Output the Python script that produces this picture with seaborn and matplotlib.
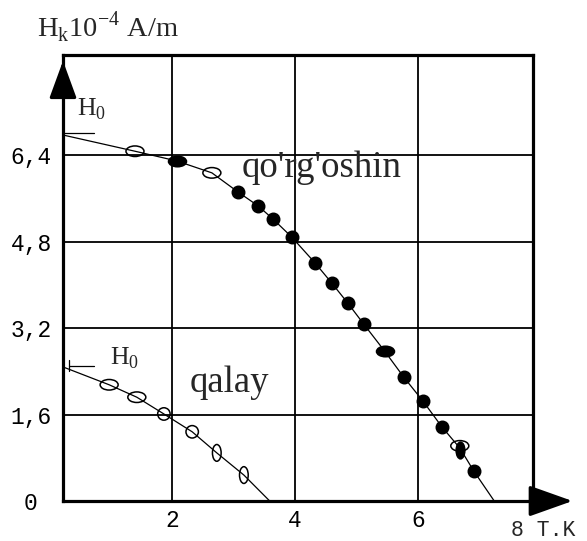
import matplotlib
matplotlib.use("Agg")
import matplotlib.pyplot as plt
import seaborn as sns
import pandas as pd
from matplotlib.markers import MarkerStyle
from matplotlib.transforms import Affine2D

# ------------------------------------------------------
# Data: T in K, Hk in 10^4 A/m
# ------------------------------------------------------
lead_T = [1.40, 2.08, 2.65, 3.07, 3.40, 3.64, 3.95, 4.33, 4.60,
          4.86, 5.12, 5.46, 5.77, 6.08, 6.39, 6.68, 6.68, 6.91]
lead_H = [6.47, 6.29, 6.07, 5.72, 5.46, 5.22, 4.88, 4.40, 4.03,
          3.66, 3.27, 2.77, 2.29, 1.85, 1.37, 0.94, 1.02, 0.55]
lead_H0 = 6.77
lead_Tc = 7.24

tin_T = [0.98, 1.43, 1.87, 2.33, 2.73, 3.17]
tin_H = [2.15, 1.92, 1.61, 1.28, 0.89, 0.48]
tin_H0 = 2.48
tin_Tc = 3.59

x_ticks = [2, 4, 6]
x_labels = ["2", "4", "6"]
y_ticks = [0, 1.6, 3.2, 4.8, 6.4]
y_labels = ["0 ", "1,6", "3,2", "4,8", "6,4"]

# marker looks (fill, shape) per point
lead_fill = [False, True, False, True, True, True, True, True, True,
             True, True, True, True, True, True, True, False, True]
lead_shape = ["wide", "wide", "wide", "round", "round", "round", "round", "round", "round",
              "round", "round", "wide", "round", "round", "round", "tall", "wide", "round"]
tin_shape = ["wide", "wide", "round", "round", "tall", "tall"]

shapes = {"wide": (1.45, 0.85), "round": (1.0, 1.0), "tall": (0.7, 1.35)}

x_left = 0.23
x_right = 7.87

# ------------------------------------------------------
# Figure
# ------------------------------------------------------
sns.set_style("white")
plt.rcParams["font.family"] = ["Liberation Serif", "DejaVu Serif"]
plt.rcParams["mathtext.fontset"] = "custom"
plt.rcParams["mathtext.rm"] = "Liberation Serif"

fig = plt.figure(figsize=(5.87, 5.41), dpi=100)
ax = fig.add_axes([63 / 587, 40 / 541, 470 / 587, 446 / 541])

# curves
lead_line = pd.DataFrame({"T": [x_left] + lead_T + [lead_Tc],
                          "H": [lead_H0] + lead_H + [0]})
tin_line = pd.DataFrame({"T": [x_left] + tin_T + [tin_Tc],
                         "H": [tin_H0] + tin_H + [0]})
sns.lineplot(x="T", y="H", data=lead_line, sort=False, color="k", lw=0.9, ax=ax)
sns.lineplot(x="T", y="H", data=tin_line, sort=False, color="k", lw=0.9, ax=ax)

# points
pts = pd.DataFrame({
    "T": lead_T + tin_T,
    "H": lead_H + tin_H,
    "filled": lead_fill + [False] * len(tin_T),
    "shape": lead_shape + tin_shape,
})
for (filled, shape), grp in pts.groupby(["filled", "shape"]):
    sx, sy = shapes[shape]
    m = MarkerStyle("o", transform=Affine2D().scale(sx, sy))
    sns.scatterplot(x="T", y="H", data=grp, marker=m, s=80,
                    color="k" if filled else "none", edgecolor="k",
                    linewidth=1.1, zorder=3, ax=ax)

# H0 markers
ax.plot([x_left, x_left + 0.5], [lead_H0 + 0.03] * 2, color="k", lw=0.9)
ax.plot([x_left + 0.1, x_left + 0.5], [tin_H0 + 0.02] * 2, color="k", lw=0.9)
ax.plot([x_left + 0.1, x_left + 0.1], [tin_H0 - 0.08, tin_H0 + 0.12], color="k", lw=0.9)

ax.text(0.455, 7.14, r"H$_\mathregular{0}$", fontsize=18.5, ha="left", va="baseline")
ax.text(0.99, 2.52, r"H$_\mathregular{0}$", fontsize=18.5, ha="left", va="baseline")
ax.text(3.14, 5.99, "qo'rg'oshin", fontsize=26.5, ha="left", va="baseline")
ax.text(2.29, 2.02, "qalay", fontsize=26.5, ha="left", va="baseline")

# axes
ax.set_xlim(x_left, x_right)
ax.set_ylim(0, 8.25)
ax.set_xticks(x_ticks)
ax.set_xticklabels(x_labels, family="Liberation Mono")
ax.set_yticks(y_ticks)
ax.set_yticklabels(y_labels, family="Liberation Mono")
ax.tick_params(axis="both", length=0, labelsize=16.5, colors="k")
ax.tick_params(axis="x", pad=6)
ax.tick_params(axis="y", pad=8)
ax.grid(True, color="k", lw=1.3)
ax.set_axisbelow(True)
ax.set_xlabel("")
ax.set_ylabel("")
for sp in ax.spines.values():
    sp.set_color("k")
    sp.set_linewidth(2.3)

# axis arrows
ax.annotate("", xy=(0, 0.993), xytext=(0, 0.9), xycoords="axes fraction",
            arrowprops=dict(arrowstyle="-|>,head_length=1.15,head_width=0.42",
                            mutation_scale=20, color="k", lw=2.3),
            annotation_clip=False)
ax.annotate("", xy=(1.09, 0), xytext=(0.99, 0), xycoords="axes fraction",
            arrowprops=dict(arrowstyle="-|>,head_length=1.35,head_width=0.48",
                            mutation_scale=20, color="k", lw=2.3),
            annotation_clip=False)

fig.text(37 / 587, 1 - 37 / 541, r"H$_\mathregular{k}$10$^\mathregular{-4}$ A/m",
         fontsize=20.5, ha="left", va="baseline")
fig.text(511 / 587, 1 - 530 / 541, "8 T.K", fontsize=15.5, ha="left", va="center",
         family="Liberation Mono")

fig.savefig("out.png", dpi=100, facecolor="white")
